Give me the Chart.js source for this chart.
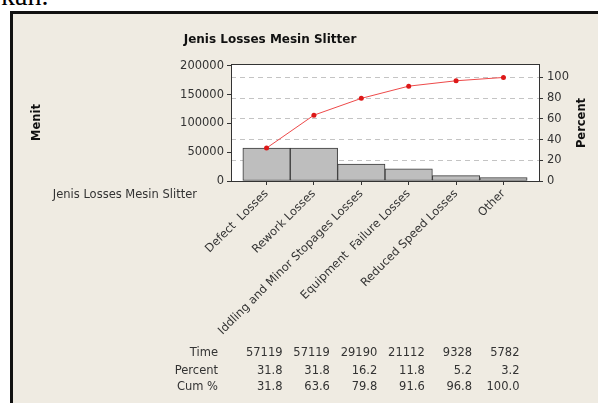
<!DOCTYPE html>
<html>
<head>
<meta charset="utf-8">
<script src="https://cdn.jsdelivr.net/npm/chart.js@4.4.0/dist/chart.umd.min.js"></script>
<style>
  html, body { margin: 0; padding: 0; background: #fff; width: 598px; height: 403px; overflow: hidden; }
  #doc { position: absolute; left: 1px; top: -20px; font: 28px 'Liberation Serif', serif; color: #000; }
  #frame { position: absolute; left: 10px; top: 11px; width: 700px; height: 500px; background: #efebe2;
           border-left: 3px solid #111; border-top: 3px solid #111; }
  canvas { position: absolute; left: 0; top: 0; }
</style>
</head>
<body>
<div id="doc">kan.</div>
<div id="frame"></div>
<canvas id="c" width="598" height="403"></canvas>
<script>
// data
const chartTitle = 'Jenis Losses Mesin Slitter';
const categories = ['Defect  Losses', 'Rework Losses', 'Iddling and Minor Stopages Losses',
                    'Equipment  Failure Losses', 'Reduced Speed Losses', 'Other'];
const timeValues = [57119, 57119, 29190, 21112, 9328, 5782];
const percentValues = ['31.8', '31.8', '16.2', '11.8', '5.2', '3.2'];
const cumPercent = [31.8, 63.6, 79.8, 91.6, 96.8, 100.0];
const rowLabels = ['Time', 'Percent', 'Cum %'];
const leftTicks = [0, 50000, 100000, 150000, 200000];
const rightTicks = [0, 20, 40, 60, 80, 100];

const total = timeValues.reduce((a, b) => a + b, 0);
const leftMax = 203000;
const rightMax = leftMax / total * 100;

const FONT = "'DejaVu Sans', sans-serif";
Chart.defaults.font.family = FONT;
Chart.defaults.font.size = 11.5;
Chart.defaults.color = '#333';

const extras = {
  id: 'extras',
  beforeDraw(chart) {
    const {ctx, chartArea: a} = chart;
    ctx.save();
    ctx.fillStyle = '#fff';
    ctx.fillRect(a.left, a.top, a.right - a.left, a.bottom - a.top);
    ctx.restore();
  },
  afterDraw(chart) {
    const {ctx, chartArea: a} = chart;
    const x = chart.scales.x;
    ctx.save();
    ctx.strokeStyle = '#333';
    ctx.lineWidth = 1;
    ctx.strokeRect(Math.round(a.left) + 0.5, Math.round(a.top) + 0.5,
                   Math.round(a.right - a.left), Math.round(a.bottom - a.top));

    ctx.fillStyle = '#111';
    ctx.font = 'bold 12px ' + FONT;
    ctx.textAlign = 'center';
    ctx.textBaseline = 'middle';
    ctx.fillText(chartTitle, 270, 40);

    ctx.save();
    ctx.font = 'bold 11.5px ' + FONT;
    ctx.translate(582, 123);
    ctx.rotate(-Math.PI / 2);
    ctx.fillText('Percent', 0, 0);
    ctx.restore();

    ctx.fillStyle = '#333';
    ctx.font = '11.5px ' + FONT;
    ctx.textAlign = 'right';
    ctx.fillText(chartTitle, 197, 195);

    // table under the chart
    const rows = [timeValues.map(String), percentValues, cumPercent.map(v => v.toFixed(1))];
    const rowY = [353, 371, 387];
    rows.forEach((vals, r) => {
      ctx.fillText(rowLabels[r], 218, rowY[r]);
      vals.forEach((v, i) => {
        ctx.fillText(v, x.getPixelForValue(i) + 16, rowY[r]);
      });
    });
    ctx.restore();
  }
};

new Chart(document.getElementById('c'), {
  data: {
    datasets: [
      {
        type: 'line',
        yAxisID: 'y1',
        order: 0,
        data: cumPercent.map((v, i) => ({x: i, y: v})),
        borderColor: '#ee4a4a',
        borderWidth: 1,
        pointRadius: 2.5,
        pointBackgroundColor: '#dd1818',
        pointBorderColor: '#dd1818',
        pointBorderWidth: 0
      },
      {
        type: 'bar',
        yAxisID: 'y',
        order: 1,
        data: timeValues.map((v, i) => ({x: i, y: v})),
        backgroundColor: '#bebebe',
        borderColor: '#3a3a3a',
        borderWidth: 1,
        borderSkipped: false,
        categoryPercentage: 1,
        barPercentage: 1
      }
    ]
  },
  options: {
    responsive: false,
    animation: false,
    devicePixelRatio: 1,
    layout: {padding: {top: 64, left: 0, right: 0, bottom: 0}},
    plugins: {legend: {display: false}, tooltip: {enabled: false}, title: {display: false}},
    scales: {
      x: {
        type: 'linear',
        min: -0.75,
        max: 5.75,
        offset: false,
        afterFit(s) { s.height = 403 - 181; },
        afterBuildTicks(s) { s.ticks = categories.map((c, i) => ({value: i})); },
        grid: {drawOnChartArea: false, offset: false, tickLength: 4, tickColor: '#333'},
        border: {color: '#333'},
        ticks: {
          autoSkip: false,
          minRotation: 45,
          maxRotation: 45,
          padding: 2,
          callback: v => categories[v] || ''
        }
      },
      y: {
        position: 'left',
        min: 0,
        max: leftMax,
        afterFit(s) { s.width = 231; },
        afterBuildTicks(s) { s.ticks = leftTicks.map(v => ({value: v})); },
        grid: {drawOnChartArea: false, tickLength: 4, tickColor: '#333'},
        border: {color: '#333'},
        ticks: {padding: 3, callback: v => String(v)},
        title: {display: true, text: 'Menit', color: '#111',
                font: {weight: 'bold', size: 11.5}, padding: {top: 30, bottom: 0}}
      },
      y1: {
        position: 'right',
        min: 0,
        max: rightMax,
        afterFit(s) { s.width = 598 - 539; },
        afterBuildTicks(s) { s.ticks = rightTicks.map(v => ({value: v})); },
        grid: {drawOnChartArea: true, color: '#c4c4c4', tickLength: 4, tickColor: '#333', tickBorderDash: []},
        border: {color: '#333', dash: [5, 4]},
        ticks: {padding: 4, callback: v => String(v)}
      }
    }
  },
  plugins: [extras]
});
</script>
</body>
</html>
